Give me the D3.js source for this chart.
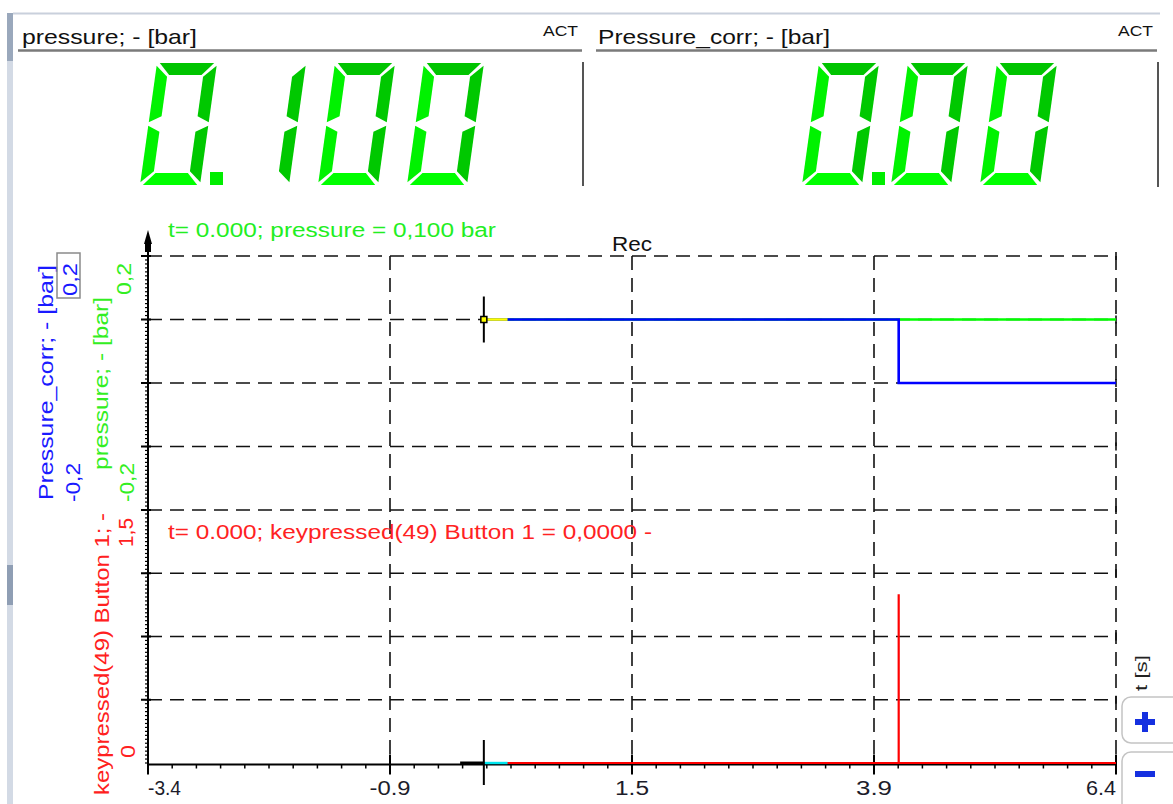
<!DOCTYPE html>
<html><head><meta charset="utf-8">
<script src="https://cdn.jsdelivr.net/npm/d3@7"></script>
<style>
html,body{margin:0;padding:0;background:#fff;}
svg text{font-family:"Liberation Sans",Arial,sans-serif;}
</style></head>
<body>
<svg id="chart" width="1173" height="804"></svg>
<script>
// ---------- data ----------
const display1Title = "pressure; - [bar]";
const display2Title = "Pressure_corr; - [bar]";
const display1Value = "0.100";
const display2Value = "0.00";
const xTickValues = [-3.4, -0.95, 1.5, 3.95, 6.4];
const xTickLabels = ["-3.4", "-0.9", "1.5", "3.9", "6.4"];
const yTopTicks = [-0.2, -0.1, 0, 0.1, 0.2];
const yBotTicks = [0, 0.375, 0.75, 1.125, 1.5];
const pressureT = [0, 6.4];
const pressureV = [0.1, 0.1];
const pressureCorrT = [0, 4.2, 4.2, 6.4];
const pressureCorrV = [0.1, 0.1, 0.0, 0.0];
const keyT = [0, 4.2, 4.2, 4.2, 6.4];
const keyV = [0, 0, 1, 0, 0];
const cursorT = 0;
const highlightT = [0, 0.24];
const preCursorT = [-0.24, 0];
const topInfo = "t= 0.000; pressure = 0,100 bar";
const botInfo = "t= 0.000; keypressed(49) Button 1 = 0,0000 -";

// ---------- setup ----------
const svg = d3.select("#chart");
const x = d3.scaleLinear().domain([-3.4, 6.4]).range([148, 1116]);
const yTop = d3.scaleLinear().domain([-0.2, 0.2]).range([510, 256]);
const yBot = d3.scaleLinear().domain([0, 1.5]).range([763, 510]);

// window chrome
svg.append("rect").attr("x", 7).attr("y", 13).attr("width", 6).attr("height", 791).attr("fill", "#d3dae5");
svg.append("rect").attr("x", 7).attr("y", 13).attr("width", 6).attr("height", 48).attr("fill", "#9aa8bc");
svg.append("rect").attr("x", 7).attr("y", 565).attr("width", 6).attr("height", 40).attr("fill", "#8f9eb4");
svg.append("line").attr("x1", 13).attr("x2", 1160).attr("y1", 13.5).attr("y2", 13.5).attr("stroke", "#c9d0dc").attr("stroke-width", 2);

// ---------- digital displays ----------
function textFit(g, str, xPos, yPos, len, size, color, anchor) {
  return g.append("text").attr("x", xPos).attr("y", yPos).attr("font-size", size)
    .attr("fill", color).attr("text-anchor", anchor || "start")
    .attr("textLength", len).attr("lengthAdjust", "spacingAndGlyphs").text(str);
}
const hdr = svg.append("g");
textFit(hdr, display1Title, 22, 44, 175, 21, "#111");
textFit(hdr, "ACT", 543, 36, 35, 15, "#111");
hdr.append("line").attr("x1", 18).attr("x2", 582).attr("y1", 50.5).attr("y2", 50.5).attr("stroke", "#7a7a7a").attr("stroke-width", 2.5);
textFit(hdr, display2Title, 598, 44, 232, 21, "#111");
textFit(hdr, "ACT", 1118, 36, 35, 15, "#111");
hdr.append("line").attr("x1", 596).attr("x2", 1157).attr("y1", 50.5).attr("y2", 50.5).attr("stroke", "#7a7a7a").attr("stroke-width", 2.5);
hdr.append("line").attr("x1", 583).attr("x2", 583).attr("y1", 62).attr("y2", 186).attr("stroke", "#555").attr("stroke-width", 2);
hdr.append("line").attr("x1", 1158).attr("x2", 1158).attr("y1", 62).attr("y2", 187).attr("stroke", "#555").attr("stroke-width", 2);

const H = 122, W = 60, T = 12, G = 1.8, h = H / 2, SL = 17 / 122, DY = 63;
const segDefs = {
  a: [[G + 1, 0], [W - G - 1, 0], [W - T - G, T], [T + G, T]],
  b: [[W, G + 1], [W, h - G], [W - T, h - G - T / 2], [W - T, T + G]],
  c: [[W, h + G], [W, H - G - 1], [W - T, H - T - G], [W - T, h + G + T / 2]],
  d: [[T + G, H - T], [W - T - G, H - T], [W - G - 1, H], [G + 1, H]],
  e: [[0, h + G], [T, h + G + T / 2], [T, H - T - G], [0, H - G - 1]],
  f: [[0, G + 1], [T, T + G], [T, h - G - T / 2], [0, h - G]],
  g: [[G, h], [T, h - T / 2], [W - T, h - T / 2], [W - G, h], [W - T, h + T / 2], [T, h + T / 2]]
};
const segColor = { a: "#00c400", b: "#00c800", c: "#00c800", d: "#00ff00", e: "#00f200", f: "#00f200", g: "#00e000" };
const digitSegs = { "0": "abcdef", "1": "bc", "2": "abged", "3": "abgcd", "4": "fgbc", "5": "afgcd", "6": "afgedc", "7": "abc", "8": "abcdefg", "9": "abcdfg" };
function drawDisplay(str, x0) {
  const g = svg.append("g");
  let cell = x0, last = x0;
  for (const ch of str) {
    if (ch === ".") {
      g.append("rect").attr("x", last + 70).attr("y", DY + H - 13).attr("width", 13).attr("height", 13).attr("fill", "#00ee00");
      continue;
    }
    for (const s of digitSegs[ch]) {
      const pts = segDefs[s].map(([u, v]) => [cell + u + (H - v) * SL, DY + v]);
      g.append("polygon").attr("points", pts.map(p => p.join(",")).join(" ")).attr("fill", segColor[s]);
    }
    last = cell;
    cell += 89;
  }
}
drawDisplay(display1Value, 140);
drawDisplay(display2Value, 802);

// ---------- plot grid ----------
const grid = svg.append("g").attr("stroke", "#111").attr("stroke-width", 1.6).attr("stroke-dasharray", "14,8");
const hLines = yTopTicks.map(v => yTop(v)).concat(yBotTicks.slice(1, 4).map(v => yBot(v)));
grid.selectAll(".hl").data(hLines).join("line")
  .attr("x1", x(-3.4)).attr("x2", x(6.4)).attr("y1", d => d).attr("y2", d => d);
grid.selectAll(".vl").data(xTickValues.slice(1)).join("line")
  .attr("x1", d => x(d)).attr("x2", d => x(d)).attr("y1", yTop(0.2)).attr("y2", yBot(0));
// small end ticks at right edge
svg.append("g").selectAll("line").data(hLines).join("line")
  .attr("x1", x(6.4)).attr("x2", x(6.4)).attr("y1", d => d - 4).attr("y2", d => d + 4)
  .attr("stroke", "#111").attr("stroke-width", 1.6);

// x axis
const xAxisY = yBot(0) + 1.5;
svg.append("line").attr("x1", x(-3.4)).attr("x2", x(6.4)).attr("y1", xAxisY).attr("y2", xAxisY).attr("stroke", "#000").attr("stroke-width", 2);
const minorX = d3.range(0, 41).map(i => -3.4 + i * 0.245);
svg.append("g").selectAll("line").data(minorX).join("line")
  .attr("x1", d => x(d)).attr("x2", d => x(d)).attr("y1", xAxisY).attr("y2", xAxisY + 4)
  .attr("stroke", "#000").attr("stroke-width", 1.5);
svg.append("g").selectAll("line").data(xTickValues).join("line")
  .attr("x1", d => x(d)).attr("x2", d => x(d)).attr("y1", xAxisY - 10).attr("y2", xAxisY + 10)
  .attr("stroke", "#000").attr("stroke-width", 2);
const xLabelWidths = [33, 41, 34, 36, 30];
const xl = svg.append("g");
xTickLabels.forEach((lab, i) => {
  const anchor = i === 0 ? "start" : (i === xTickLabels.length - 1 ? "end" : "middle");
  textFit(xl, lab, x(xTickValues[i]), 795, xLabelWidths[i], 20, "#1c1c2a", anchor);
});

// y axis
const yAxisX = x(-3.4);
svg.append("line").attr("x1", yAxisX).attr("x2", yAxisX).attr("y1", 245).attr("y2", yBot(0) + 2).attr("stroke", "#000").attr("stroke-width", 2);
svg.append("path").attr("d", `M${yAxisX},230 L${yAxisX - 4},244 L${yAxisX + 4},244 Z`).attr("fill", "#000");
svg.append("rect").attr("x", yAxisX - 3).attr("y", 243).attr("width", 6).attr("height", 9).attr("fill", "#000");
const minorYTop = d3.range(0, 65).map(i => -0.2 + i * 0.4 / 64);
const minorYBot = d3.range(0, 65).map(i => i * 1.5 / 64);
const ym = svg.append("g").attr("stroke", "#000").attr("stroke-width", 1.2);
ym.selectAll(".a").data(minorYTop).join("line").attr("x1", yAxisX - 3).attr("x2", yAxisX).attr("y1", d => yTop(d)).attr("y2", d => yTop(d));
ym.selectAll(".b").data(minorYBot).join("line").attr("x1", yAxisX - 3).attr("x2", yAxisX).attr("y1", d => yBot(d)).attr("y2", d => yBot(d));
svg.append("g").selectAll("line").data(hLines).join("line")
  .attr("x1", yAxisX - 7).attr("x2", yAxisX + 3).attr("y1", d => d).attr("y2", d => d)
  .attr("stroke", "#000").attr("stroke-width", 2);

// ---------- series ----------
const lineTop = d3.line().x(d => x(d[0])).y(d => yTop(d[1]));
const lineBot = d3.line().x(d => x(d[0])).y(d => yBot(d[1]));
const series = svg.append("g").attr("fill", "none");
series.append("path").attr("d", lineTop(d3.zip(pressureT, pressureV))).attr("stroke", "#00ff00").attr("stroke-width", 2.5);
series.append("path").attr("d", lineTop(d3.zip(pressureCorrT, pressureCorrV))).attr("stroke", "#0000ff").attr("stroke-width", 2.6);
series.append("path").attr("d", lineTop(highlightT.map(t => [t, 0.1]))).attr("stroke", "#ffff00").attr("stroke-width", 2.6);
series.append("path").attr("d", lineBot(d3.zip(keyT, keyV))).attr("stroke", "#ff0000").attr("stroke-width", 2.2);
series.append("path").attr("d", lineBot(highlightT.map(t => [t, 0]))).attr("stroke", "#00e5ee").attr("stroke-width", 2.4);
series.append("path").attr("d", lineBot(preCursorT.map(t => [t, 0]))).attr("stroke", "#000").attr("stroke-width", 3);

// cursor
const cx = x(cursorT);
svg.append("line").attr("x1", cx).attr("x2", cx).attr("y1", yTop(0.1) - 23).attr("y2", yTop(0.1) + 23).attr("stroke", "#000").attr("stroke-width", 2);
svg.append("rect").attr("x", cx - 3).attr("y", yTop(0.1) - 3).attr("width", 6).attr("height", 6).attr("fill", "#ffff00").attr("stroke", "#000").attr("stroke-width", 1.5);
svg.append("line").attr("x1", cx).attr("x2", cx).attr("y1", yBot(0) - 23).attr("y2", yBot(0) + 22).attr("stroke", "#000").attr("stroke-width", 2);

// info texts
textFit(svg, topInfo, 168, 237, 328, 20, "#22ee22");
textFit(svg, botInfo, 168, 539, 484, 20, "#ff2222");
textFit(svg, "Rec", 612, 251, 40, 20, "#111");

// rotated axis labels
function rotText(str, bx, by, len, size, color) {
  svg.append("text").attr("transform", `translate(${bx},${by}) rotate(-90)`).attr("font-size", size)
    .attr("fill", color).attr("textLength", len).attr("lengthAdjust", "spacingAndGlyphs").text(str);
}
rotText("Pressure_corr; - [bar]", 53, 500, 235, 20, "#1a1aff");
rotText("-0,2", 80, 502, 39, 20, "#1a1aff");
svg.append("rect").attr("x", 57).attr("y", 253).attr("width", 23).attr("height", 45).attr("fill", "none").attr("stroke", "#8a8a8a").attr("stroke-width", 1.5);
rotText("0,2", 77, 296, 33, 20, "#1a1aff");
rotText("pressure; - [bar]", 108, 470, 173, 20, "#33ee22");
rotText("0,2", 131, 295, 32, 20, "#33ee22");
rotText("-0,2", 134, 502, 39, 20, "#33ee22");
rotText("keypressed(49) Button 1; -", 109, 795, 282, 20, "#ff2020");
rotText("1,5", 133, 547, 29, 20, "#ff2020");
rotText("0", 135, 758, 13, 20, "#ff2020");

// right side: t [s] and zoom buttons
rotText("t [s]", 1147, 691, 36, 17, "#222");
svg.append("rect").attr("x", 1122).attr("y", 697).attr("width", 70).attr("height", 46).attr("rx", 9).attr("fill", "#fff").attr("stroke", "#c4c4c4").attr("stroke-width", 1.5);
svg.append("rect").attr("x", 1122).attr("y", 752).attr("width", 70).attr("height", 60).attr("rx", 9).attr("fill", "#fff").attr("stroke", "#c4c4c4").attr("stroke-width", 1.5);
svg.append("rect").attr("x", 1135).attr("y", 719).attr("width", 20).attr("height", 6).attr("fill", "#1530e0");
svg.append("rect").attr("x", 1142).attr("y", 712).attr("width", 6).attr("height", 20).attr("fill", "#1530e0");
svg.append("rect").attr("x", 1135).attr("y", 771).attr("width", 20).attr("height", 6).attr("fill", "#1530e0");
</script>
</body></html>
